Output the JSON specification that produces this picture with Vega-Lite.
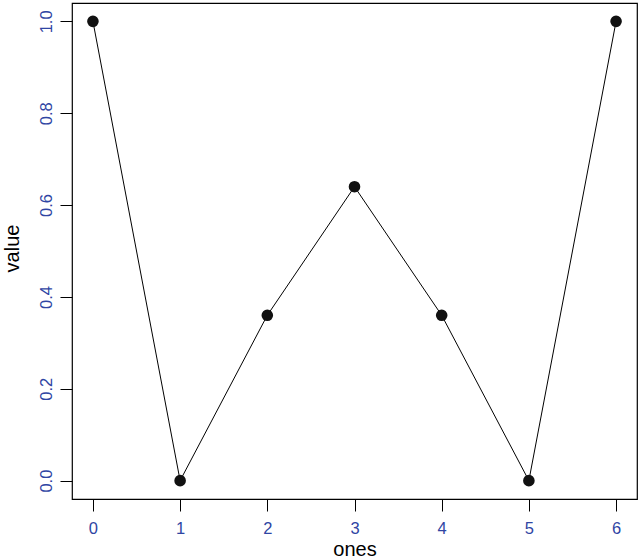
{
  "$schema": "https://vega.github.io/schema/vega-lite/v6.json",
  "autosize": {"type": "none"},
  "padding": {"left": 72, "top": 3, "right": 3, "bottom": 60},
  "width": 565,
  "height": 496,
  "background": "white",
  "config": {
    "font": "Liberation Sans",
    "view": {"stroke": "black", "strokeWidth": 1.2},
    "axis": {
      "grid": false,
      "domain": false,
      "ticks": true,
      "tickColor": "black",
      "tickSize": 12,
      "tickWidth": 1,
      "labelColor": "#2F45A3",
      "labelFontSize": 16.5,
      "titleFontSize": 20,
      "titleFontWeight": "normal",
      "titleColor": "black"
    }
  },
  "data": {
    "values": [
      {"ones": 0, "value": 1.0},
      {"ones": 1, "value": 0.0},
      {"ones": 2, "value": 0.36},
      {"ones": 3, "value": 0.64},
      {"ones": 4, "value": 0.36},
      {"ones": 5, "value": 0.0},
      {"ones": 6, "value": 1.0}
    ]
  },
  "encoding": {
    "x": {
      "field": "ones",
      "type": "quantitative",
      "scale": {"domain": [-0.24, 6.24], "nice": false, "zero": false},
      "axis": {
        "values": [0, 1, 2, 3, 4, 5, 6],
        "format": "d",
        "labelBaseline": "middle",
        "labelPadding": 17,
        "title": "ones",
        "titleBaseline": "alphabetic",
        "titleY": 56
      }
    },
    "y": {
      "field": "value",
      "type": "quantitative",
      "scale": {"domain": [-0.04, 1.04], "nice": false, "zero": false},
      "axis": {
        "values": [0, 0.2, 0.4, 0.6, 0.8, 1.0],
        "format": ".1f",
        "labelAngle": -90,
        "labelAlign": "center",
        "labelBaseline": "middle",
        "labelPadding": 14,
        "title": "value",
        "titleAngle": -90,
        "titleAlign": "center",
        "titleBaseline": "alphabetic",
        "titleX": -54,
        "titleY": 245
      }
    }
  },
  "layer": [
    {"mark": {"type": "line", "color": "black", "strokeWidth": 1}},
    {"mark": {"type": "point", "filled": true, "color": "#111111", "opacity": 1, "size": 135}}
  ]
}
